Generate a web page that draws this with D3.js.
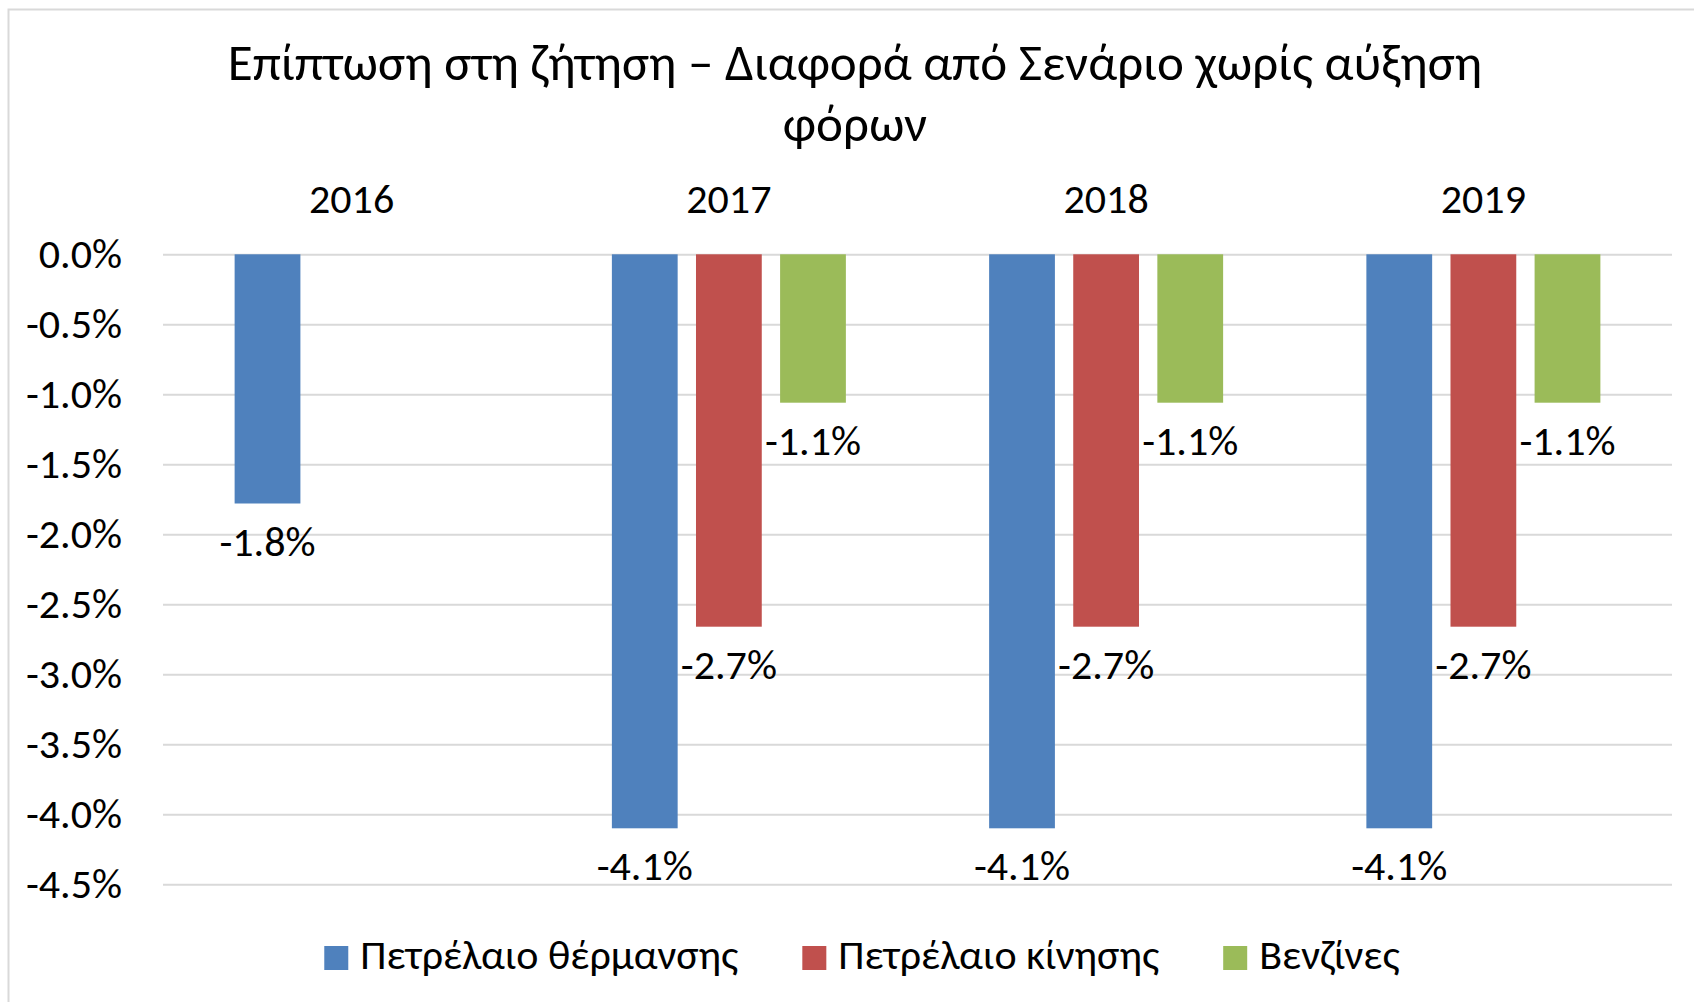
<!DOCTYPE html>
<html>
<head>
<meta charset="utf-8">
<script src="https://cdn.jsdelivr.net/npm/d3@7"></script>
<style>
  body { margin: 0; background: #fff; }
  svg { font-family: Carlito, Calibri, "Open Sans", sans-serif; }
</style>
</head>
<body>
<div id="chart"></div>
<script>
// data
var years = ["2016", "2017", "2018", "2019"];
var seriesNames = ["Πετρέλαιο θέρμανσης", "Πετρέλαιο κίνησης", "Βενζίνες"];
var heating = [-0.0178, -0.041, -0.041, -0.041];
var diesel = [null, -0.0266, -0.0266, -0.0266];
var gasoline = [null, -0.0106, -0.0106, -0.0106];
var yTicks = [0, -0.005, -0.01, -0.015, -0.02, -0.025, -0.03, -0.035, -0.04, -0.045];
var colors = ["#4f81bd", "#c0504d", "#9bbb59"];

var W = 1694, H = 1002;
var plot = {left: 163, right: 1672, top: 254.3, bottom: 884.3};
var fs = 42;

var svg = d3.select("#chart")
    .append("svg")
    .attr("width", W)
    .attr("height", H);

// chart border
svg.append("rect")
    .attr("x", 8.5).attr("y", 9.5)
    .attr("width", W).attr("height", H)
    .attr("fill", "none")
    .attr("stroke", "#d9d9d9")
    .attr("stroke-width", 2);

var loc = d3.formatLocale({decimal: ".", thousands: ",", grouping: [3], currency: ["", ""], minus: "-"});
var pct = loc.format(".1%");

var y = d3.scaleLinear()
    .domain([-0.045, 0])
    .range([plot.bottom, plot.top]);

var x0 = d3.scaleBand()
    .domain(years)
    .range([plot.left, plot.right]);

var x1 = d3.scaleBand()
    .domain(seriesNames)
    .range([0, 234])
    .paddingInner(0.218);

// y axis with gridlines
var yAxis = svg.append("g")
    .attr("transform", "translate(" + plot.left + ",0)")
    .call(d3.axisLeft(y)
        .tickValues(yTicks)
        .tickFormat(pct)
        .tickSize(-(plot.right - plot.left))
        .tickPadding(41));
yAxis.select(".domain").remove();
yAxis.attr("font-family", null);
yAxis.selectAll("line").attr("stroke", "#d9d9d9").attr("stroke-width", 2);
yAxis.selectAll("text")
    .attr("font-size", fs)
    .attr("fill", "#000");

// category labels at top
var xAxis = svg.append("g")
    .attr("transform", "translate(0," + plot.top + ")")
    .call(d3.axisTop(x0).tickSize(0).tickPadding(41));
xAxis.select(".domain").remove();
xAxis.attr("font-family", null);
xAxis.selectAll("text").attr("font-size", fs).attr("fill", "#000");

var allSeries = [heating, diesel, gasoline];
var rows = [];
allSeries.forEach(function(vals, s) {
    vals.forEach(function(v, i) {
        if (v !== null) rows.push({year: years[i], name: seriesNames[s], value: v, color: colors[s]});
    });
});

function barX(d) {
    return x0(d.year) + x0.bandwidth() / 2 - 117 + x1(d.name);
}

svg.append("g")
    .selectAll("rect")
    .data(rows)
    .enter()
    .append("rect")
      .attr("x", barX)
      .attr("y", y(0))
      .attr("width", x1.bandwidth())
      .attr("height", function(d) { return y(d.value) - y(0); })
      .attr("fill", function(d) { return d.color; });

svg.append("g")
    .selectAll("text")
    .data(rows)
    .enter()
    .append("text")
      .text(function(d) { return pct(d.value); })
      .attr("x", function(d) { return barX(d) + x1.bandwidth() / 2; })
      .attr("y", function(d) { return y(d.value) + 52; })
      .attr("text-anchor", "middle")
      .attr("font-size", fs)
      .attr("fill", "#000");

// title
var title = svg.append("text")
    .attr("text-anchor", "middle")
    .attr("font-size", 51)
    .attr("fill", "#000");
title.append("tspan").attr("x", 855).attr("y", 80).text("Επίπτωση στη ζήτηση – Διαφορά από Σενάριο χωρίς αύξηση");
title.append("tspan").attr("x", 855).attr("y", 141).text("φόρων");

// legend
var items = svg.append("g")
    .selectAll("g")
    .data(seriesNames)
    .enter()
    .append("g");
items.append("rect")
    .attr("width", 24).attr("height", 24)
    .attr("y", 946)
    .attr("fill", function(d, i) { return colors[i]; });
items.append("text")
    .attr("x", 36)
    .attr("y", 969)
    .attr("font-size", fs)
    .attr("fill", "#000")
    .text(function(d) { return d; });

var pos = 0, offsets = [];
items.each(function() {
    offsets.push(pos);
    pos += 36 + this.querySelector("text").getComputedTextLength() + 64;
});
var start = 862 - (pos - 64) / 2;
items.attr("transform", function(d, i) { return "translate(" + (start + offsets[i]) + ",0)"; });
</script>
</body>
</html>
